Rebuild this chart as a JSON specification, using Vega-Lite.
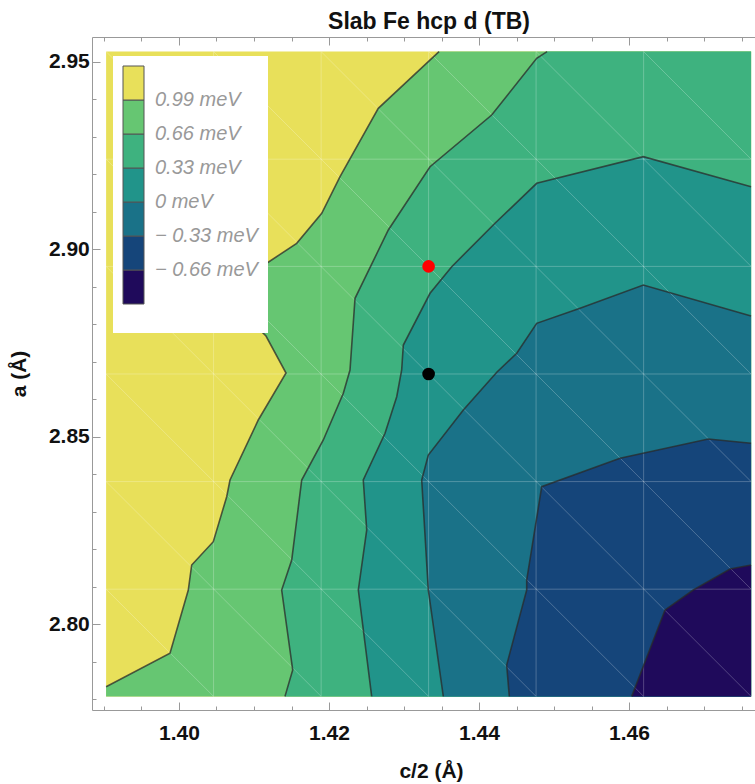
{
  "$schema": "https://vega.github.io/schema/vega-lite/v6.json",
  "width": 663,
  "height": 673,
  "autosize": {"type": "none"},
  "padding": {"left": 92, "top": 37, "right": 0, "bottom": 74},
  "title": {"text": "Slab Fe hcp d (TB)", "font": "Liberation Sans", "fontSize": 23, "fontWeight": "bold", "color": "#111111", "anchor": "middle", "baseline": "alphabetic", "offset": -15, "dx": 5.5},
  "config": {"view": {"stroke": null}, "font": "Liberation Sans"},
  "datasets": {
    "poly": [
      {"lev": "base", "z": 1.2, "k": 0, "x": 1.39028, "y": 2.7807, "e": 1},
      {"lev": "base", "z": 1.2, "k": 1, "x": 1.47628, "y": 2.7807, "e": 1},
      {"lev": "base", "z": 1.2, "k": 2, "x": 1.47628, "y": 2.9527, "e": 1},
      {"lev": "base", "z": 1.2, "k": 3, "x": 1.39028, "y": 2.9527, "e": 1},

      {"lev": "0.99", "z": 0.8, "k": 0, "x": 1.43467, "y": 2.9527, "e": 0},
      {"lev": "0.99", "z": 0.8, "k": 1, "x": 1.42657, "y": 2.93757, "e": 0},
      {"lev": "0.99", "z": 0.8, "k": 2, "x": 1.42147, "y": 2.91933, "e": 0},
      {"lev": "0.99", "z": 0.8, "k": 3, "x": 1.41903, "y": 2.90956, "e": 0},
      {"lev": "0.99", "z": 0.8, "k": 4, "x": 1.41569, "y": 2.90156, "e": 0},
      {"lev": "0.99", "z": 0.8, "k": 5, "x": 1.41169, "y": 2.89623, "e": 0},
      {"lev": "0.99", "z": 0.8, "k": 6, "x": 1.41053, "y": 2.89497, "e": 0},
      {"lev": "0.99", "z": 0.8, "k": 7, "x": 1.40947, "y": 2.88644, "e": 0},
      {"lev": "0.99", "z": 0.8, "k": 8, "x": 1.41080, "y": 2.87843, "e": 0},
      {"lev": "0.99", "z": 0.8, "k": 9, "x": 1.41160, "y": 2.87683, "e": 0},
      {"lev": "0.99", "z": 0.8, "k": 10, "x": 1.41427, "y": 2.86696, "e": 0},
      {"lev": "0.99", "z": 0.8, "k": 11, "x": 1.41057, "y": 2.85443, "e": 0},
      {"lev": "0.99", "z": 0.8, "k": 12, "x": 1.40680, "y": 2.83842, "e": 0},
      {"lev": "0.99", "z": 0.8, "k": 13, "x": 1.40636, "y": 2.83397, "e": 0},
      {"lev": "0.99", "z": 0.8, "k": 14, "x": 1.40457, "y": 2.82197, "e": 0},
      {"lev": "0.99", "z": 0.8, "k": 15, "x": 1.40169, "y": 2.81575, "e": 0},
      {"lev": "0.99", "z": 0.8, "k": 16, "x": 1.40124, "y": 2.80908, "e": 0},
      {"lev": "0.99", "z": 0.8, "k": 17, "x": 1.39880, "y": 2.79220, "e": 0},
      {"lev": "0.99", "z": 0.8, "k": 18, "x": 1.39028, "y": 2.78329, "e": 0},
      {"lev": "0.99", "z": 0.8, "k": 19, "x": 1.39028, "y": 2.7807, "e": 1},
      {"lev": "0.99", "z": 0.8, "k": 20, "x": 1.47628, "y": 2.7807, "e": 1},
      {"lev": "0.99", "z": 0.8, "k": 21, "x": 1.47628, "y": 2.9527, "e": 1},

      {"lev": "0.66", "z": 0.5, "k": 0, "x": 1.44907, "y": 2.9527, "e": 0},
      {"lev": "0.66", "z": 0.5, "k": 1, "x": 1.44769, "y": 2.95091, "e": 0},
      {"lev": "0.66", "z": 0.5, "k": 2, "x": 1.44169, "y": 2.93578, "e": 0},
      {"lev": "0.66", "z": 0.5, "k": 3, "x": 1.43347, "y": 2.92199, "e": 0},
      {"lev": "0.66", "z": 0.5, "k": 4, "x": 1.42791, "y": 2.90511, "e": 0},
      {"lev": "0.66", "z": 0.5, "k": 5, "x": 1.42347, "y": 2.88689, "e": 0},
      {"lev": "0.66", "z": 0.5, "k": 6, "x": 1.42280, "y": 2.86776, "e": 0},
      {"lev": "0.66", "z": 0.5, "k": 7, "x": 1.42191, "y": 2.86155, "e": 0},
      {"lev": "0.66", "z": 0.5, "k": 8, "x": 1.41924, "y": 2.84909, "e": 0},
      {"lev": "0.66", "z": 0.5, "k": 9, "x": 1.41636, "y": 2.83842, "e": 0},
      {"lev": "0.66", "z": 0.5, "k": 10, "x": 1.41503, "y": 2.81708, "e": 0},
      {"lev": "0.66", "z": 0.5, "k": 11, "x": 1.41369, "y": 2.80908, "e": 0},
      {"lev": "0.66", "z": 0.5, "k": 12, "x": 1.41516, "y": 2.78774, "e": 0},
      {"lev": "0.66", "z": 0.5, "k": 13, "x": 1.41413, "y": 2.7807, "e": 0},
      {"lev": "0.66", "z": 0.5, "k": 14, "x": 1.47628, "y": 2.7807, "e": 1},
      {"lev": "0.66", "z": 0.5, "k": 15, "x": 1.47628, "y": 2.9527, "e": 1},

      {"lev": "0.33", "z": 0.15, "k": 0, "x": 1.47628, "y": 2.91666, "e": 0},
      {"lev": "0.33", "z": 0.15, "k": 1, "x": 1.46191, "y": 2.92466, "e": 0},
      {"lev": "0.33", "z": 0.15, "k": 2, "x": 1.44769, "y": 2.91756, "e": 0},
      {"lev": "0.33", "z": 0.15, "k": 3, "x": 1.44213, "y": 2.90690, "e": 0},
      {"lev": "0.33", "z": 0.15, "k": 4, "x": 1.43636, "y": 2.89532, "e": 0},
      {"lev": "0.33", "z": 0.15, "k": 5, "x": 1.43347, "y": 2.88822, "e": 0},
      {"lev": "0.33", "z": 0.15, "k": 6, "x": 1.42991, "y": 2.87443, "e": 0},
      {"lev": "0.33", "z": 0.15, "k": 7, "x": 1.42969, "y": 2.86776, "e": 0},
      {"lev": "0.33", "z": 0.15, "k": 8, "x": 1.42903, "y": 2.86064, "e": 0},
      {"lev": "0.33", "z": 0.15, "k": 9, "x": 1.42747, "y": 2.85088, "e": 0},
      {"lev": "0.33", "z": 0.15, "k": 10, "x": 1.42457, "y": 2.83842, "e": 0},
      {"lev": "0.33", "z": 0.15, "k": 11, "x": 1.42503, "y": 2.82509, "e": 0},
      {"lev": "0.33", "z": 0.15, "k": 12, "x": 1.42391, "y": 2.80908, "e": 0},
      {"lev": "0.33", "z": 0.15, "k": 13, "x": 1.42569, "y": 2.7807, "e": 0},
      {"lev": "0.33", "z": 0.15, "k": 14, "x": 1.47628, "y": 2.7807, "e": 1},

      {"lev": "0", "z": -0.15, "k": 0, "x": 1.47628, "y": 2.88217, "e": 0},
      {"lev": "0", "z": -0.15, "k": 1, "x": 1.46191, "y": 2.89044, "e": 0},
      {"lev": "0", "z": -0.15, "k": 2, "x": 1.45347, "y": 2.88422, "e": 0},
      {"lev": "0", "z": -0.15, "k": 3, "x": 1.44769, "y": 2.88022, "e": 0},
      {"lev": "0", "z": -0.15, "k": 4, "x": 1.44503, "y": 2.87222, "e": 0},
      {"lev": "0", "z": -0.15, "k": 5, "x": 1.44240, "y": 2.86723, "e": 0},
      {"lev": "0", "z": -0.15, "k": 6, "x": 1.43791, "y": 2.85710, "e": 0},
      {"lev": "0", "z": -0.15, "k": 7, "x": 1.43324, "y": 2.84509, "e": 0},
      {"lev": "0", "z": -0.15, "k": 8, "x": 1.43236, "y": 2.83842, "e": 0},
      {"lev": "0", "z": -0.15, "k": 9, "x": 1.43324, "y": 2.80908, "e": 0},
      {"lev": "0", "z": -0.15, "k": 10, "x": 1.43524, "y": 2.7807, "e": 0},
      {"lev": "0", "z": -0.15, "k": 11, "x": 1.47628, "y": 2.7807, "e": 1},

      {"lev": "-0.33", "z": -0.5, "k": 0, "x": 1.47628, "y": 2.84821, "e": 0},
      {"lev": "-0.33", "z": -0.5, "k": 1, "x": 1.47057, "y": 2.84936, "e": 0},
      {"lev": "-0.33", "z": -0.5, "k": 2, "x": 1.45880, "y": 2.84421, "e": 0},
      {"lev": "-0.33", "z": -0.5, "k": 3, "x": 1.44836, "y": 2.83664, "e": 0},
      {"lev": "-0.33", "z": -0.5, "k": 4, "x": 1.44636, "y": 2.81175, "e": 0},
      {"lev": "-0.33", "z": -0.5, "k": 5, "x": 1.44636, "y": 2.80908, "e": 0},
      {"lev": "-0.33", "z": -0.5, "k": 6, "x": 1.44369, "y": 2.78908, "e": 0},
      {"lev": "-0.33", "z": -0.5, "k": 7, "x": 1.44404, "y": 2.7807, "e": 0},
      {"lev": "-0.33", "z": -0.5, "k": 8, "x": 1.47628, "y": 2.7807, "e": 1},

      {"lev": "-0.66", "z": -0.8, "k": 0, "x": 1.47628, "y": 2.81575, "e": 0},
      {"lev": "-0.66", "z": -0.8, "k": 1, "x": 1.47347, "y": 2.81468, "e": 0},
      {"lev": "-0.66", "z": -0.8, "k": 2, "x": 1.46857, "y": 2.80908, "e": 0},
      {"lev": "-0.66", "z": -0.8, "k": 3, "x": 1.46480, "y": 2.80375, "e": 0},
      {"lev": "-0.66", "z": -0.8, "k": 4, "x": 1.46036, "y": 2.7807, "e": 0},
      {"lev": "-0.66", "z": -0.8, "k": 5, "x": 1.47628, "y": 2.7807, "e": 1}
    ],
    "seg": [
      {"x": 1.40461, "y": 2.7807, "x2": 1.40461, "y2": 2.9527},
      {"x": 1.41895, "y": 2.7807, "x2": 1.41895, "y2": 2.9527},
      {"x": 1.43328, "y": 2.7807, "x2": 1.43328, "y2": 2.9527},
      {"x": 1.44761, "y": 2.7807, "x2": 1.44761, "y2": 2.9527},
      {"x": 1.46195, "y": 2.7807, "x2": 1.46195, "y2": 2.9527},
      {"x": 1.39028, "y": 2.8093, "x2": 1.47628, "y2": 2.8093},
      {"x": 1.39028, "y": 2.8380, "x2": 1.47628, "y2": 2.8380},
      {"x": 1.39028, "y": 2.8667, "x2": 1.47628, "y2": 2.8667},
      {"x": 1.39028, "y": 2.8954, "x2": 1.47628, "y2": 2.8954},
      {"x": 1.39028, "y": 2.9240, "x2": 1.47628, "y2": 2.9240},
      {"x": 1.39028, "y": 2.8093, "x2": 1.40461, "y2": 2.7807},
      {"x": 1.39028, "y": 2.8380, "x2": 1.41895, "y2": 2.7807},
      {"x": 1.39028, "y": 2.8667, "x2": 1.43328, "y2": 2.7807},
      {"x": 1.39028, "y": 2.8954, "x2": 1.44761, "y2": 2.7807},
      {"x": 1.39028, "y": 2.9240, "x2": 1.46195, "y2": 2.7807},
      {"x": 1.39028, "y": 2.9527, "x2": 1.47628, "y2": 2.7807},
      {"x": 1.40461, "y": 2.9527, "x2": 1.47628, "y2": 2.8093},
      {"x": 1.41895, "y": 2.9527, "x2": 1.47628, "y2": 2.8380},
      {"x": 1.43328, "y": 2.9527, "x2": 1.47628, "y2": 2.8667},
      {"x": 1.44761, "y": 2.9527, "x2": 1.47628, "y2": 2.8954},
      {"x": 1.46195, "y": 2.9527, "x2": 1.47628, "y2": 2.9240}
    ],
    "pts": [
      {"name": "TB", "x": 1.43328, "y": 2.8954},
      {"name": "ref", "x": 1.43328, "y": 2.8667}
    ]
  },
  "resolve": {"axis": {"x": "independent", "y": "independent"}},
  "encoding": {
    "x": {"field": "x", "type": "quantitative", "scale": {"domain": [1.3884, 1.4768], "nice": false, "zero": false}, "axis": null},
    "y": {"field": "y", "type": "quantitative", "scale": {"domain": [2.77707, 2.95659], "nice": false, "zero": false}, "axis": null}
  },
  "layer": [
    {
      "data": {"name": "poly"},
      "mark": {"type": "line", "strokeOpacity": 0, "strokeWidth": 0, "fillOpacity": 1},
      "encoding": {
        "x": {
          "field": "x", "type": "quantitative",
          "scale": {"domain": [1.3884, 1.4768], "nice": false, "zero": false},
          "axis": {
            "orient": "bottom",
            "values": [1.39, 1.395, 1.40, 1.405, 1.41, 1.415, 1.42, 1.425, 1.43, 1.435, 1.44, 1.445, 1.45, 1.455, 1.46, 1.465, 1.47, 1.475],
            "labelExpr": "abs(datum.value*50 - round(datum.value*50)) < 0.000001 ? format(datum.value, '.2f') : ''",
            "tickSize": {"condition": {"test": "abs(datum.value*50 - round(datum.value*50)) < 0.000001", "value": -8}, "value": -4},
            "labelFont": "Liberation Sans", "labelFontSize": 21, "labelFontWeight": "bold", "labelColor": "#111111",
            "labelPadding": 20.5, "labelBaseline": "top", "labelFlush": false, "labelOverlap": false,
            "tickColor": "#999999", "tickWidth": 1, "domainColor": "#999999", "domainWidth": 1, "grid": false,
            "title": "c/2 (Å)", "titleFont": "Liberation Sans", "titleFontSize": 21, "titleFontWeight": "bold", "titleColor": "#111111",
            "titleBaseline": "alphabetic", "titleAlign": "center", "titleX": 339, "titleY": 67.6
          }
        },
        "fill": {
          "field": "z", "type": "quantitative",
          "scale": {"type": "threshold", "domain": [-0.66, -0.33, 0, 0.33, 0.66, 0.99],
                    "range": ["#1f0a5b", "#15457a", "#1a7288", "#21948a", "#3eb27f", "#66c672", "#e8e05a"]},
          "legend": {
            "type": "gradient", "direction": "vertical", "orient": "none", "legendX": 21, "legendY": 19,
            "title": " ", "titleOrient": "bottom", "titleFontSize": 14, "titlePadding": 4,
            "gradientLength": 238, "gradientThickness": 21, "gradientStrokeColor": "#555555", "gradientStrokeWidth": 1,
            "labelFont": "Liberation Sans", "labelFontSize": 20, "labelFontStyle": "italic", "labelColor": "#999999",
            "labelOffset": 11, "labelOverlap": false, "labelLimit": 200,
            "labelExpr": "isFinite(datum.value) ? (datum.value < 0 ? '− ' : '') + (datum.value == 0 ? '0' : format(abs(datum.value), '.2f')) + ' meV' : ''",
            "fillColor": "white", "padding": 10, "zindex": 1
          }
        },
        "detail": {"field": "lev", "type": "nominal"},
        "order": {"field": "k", "type": "quantitative"}
      }
    },
    {
      "data": {"name": "seg"},
      "mark": {"type": "rule", "color": "#ffffff", "opacity": 0.24, "strokeWidth": 1},
      "encoding": {
        "y": {
          "field": "y", "type": "quantitative",
          "scale": {"domain": [2.77707, 2.95659], "nice": false, "zero": false},
          "axis": {
            "orient": "left",
            "values": [2.78, 2.79, 2.80, 2.81, 2.82, 2.83, 2.84, 2.85, 2.86, 2.87, 2.88, 2.89, 2.90, 2.91, 2.92, 2.93, 2.94, 2.95],
            "labelExpr": "abs(datum.value*20 - round(datum.value*20)) < 0.000001 ? format(datum.value, '.2f') : ''",
            "tickSize": {"condition": {"test": "abs(datum.value*20 - round(datum.value*20)) < 0.000001", "value": -8}, "value": -4},
            "labelFont": "Liberation Sans", "labelFontSize": 21, "labelFontWeight": "bold", "labelColor": "#111111",
            "labelPadding": 10.7, "labelBaseline": "middle", "labelFlush": false, "labelOverlap": false,
            "tickColor": "#999999", "tickWidth": 1, "domainColor": "#999999", "domainWidth": 1, "grid": false,
            "title": "a (Å)", "titleFont": "Liberation Sans", "titleFontSize": 21, "titleFontWeight": "bold", "titleColor": "#111111",
            "titleAngle": 270, "titleBaseline": "alphabetic", "titleAlign": "center", "titleX": -66.4, "titleY": 336.5
          }
        },
        "x2": {"field": "x2"},
        "y2": {"field": "y2"}
      }
    },
    {
      "data": {"name": "poly"},
      "transform": [{"filter": "datum.e == 0"}],
      "mark": {"type": "line", "color": "#2a2a2a", "strokeWidth": 1.6, "opacity": 0.75},
      "encoding": {
        "x": {
          "field": "x", "type": "quantitative",
          "scale": {"domain": [1.3884, 1.4768], "nice": false, "zero": false},
          "axis": {
            "orient": "top",
            "values": [1.39, 1.395, 1.40, 1.405, 1.41, 1.415, 1.42, 1.425, 1.43, 1.435, 1.44, 1.445, 1.45, 1.455, 1.46, 1.465, 1.47, 1.475],
            "labels": false, "title": null, "grid": false,
            "tickSize": {"condition": {"test": "abs(datum.value*50 - round(datum.value*50)) < 0.000001", "value": -8}, "value": -4},
            "tickColor": "#999999", "tickWidth": 1, "domainColor": "#999999", "domainWidth": 1
          }
        },
        "detail": {"field": "lev", "type": "nominal"},
        "order": {"field": "k", "type": "quantitative"}
      }
    },
    {
      "data": {"name": "pts"},
      "mark": {"type": "circle", "size": 160, "opacity": 1},
      "encoding": {
        "color": {"field": "name", "type": "nominal", "scale": {"domain": ["TB", "ref"], "range": ["#ff0000", "#000000"]}, "legend": null}
      }
    }
  ]
}
